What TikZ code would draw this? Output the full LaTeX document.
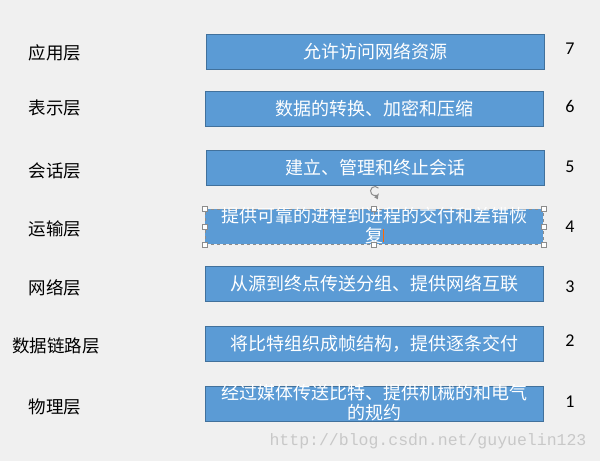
\documentclass[tikz,border=0pt]{standalone}
\usepackage{fontspec}
\setmainfont{Noto Sans CJK SC}
\newfontfamily\digitfont{Carlito}
\newfontfamily\urlfont{Liberation Mono}
\definecolor{bgcol}{HTML}{F0F0F0}
\definecolor{boxfill}{HTML}{5B9BD5}
\definecolor{boxline}{HTML}{41719C}
\definecolor{handleline}{HTML}{8C8C8C}
\definecolor{markcol}{HTML}{C8C8C8}
\begin{document}
\begin{tikzpicture}[x=1pt, y=-1pt,
    every node/.style={inner sep=0pt},
    layerbox/.style={fill=boxfill, draw=boxline, line width=0.8pt, minimum width=338pt, minimum height=35pt},
    boxtext/.style={text=white, font=\fontsize{18}{20}\selectfont, align=center},
    layername/.style={font=\fontsize{17.5}{20}\selectfont},
    layernum/.style={font=\digitfont\fontsize{18}{20}\selectfont},
    handle/.style={fill=white, draw=handleline, line width=0.5pt, minimum size=5pt}]
  \useasboundingbox [fill=bgcol] (0,0) rectangle (600,461);
  % layer names
  \node [layername] (n7) at (55,53) {应用层};
  \node [layername] (n6) at (55,108) {表示层};
  \node [layername] (n5) at (55,171) {会话层};
  \node [layername] (n4) at (55,229) {运输层};
  \node [layername] (n3) at (55,288) {网络层};
  \node [layername] (n2) at (56,346) {数据链路层};
  \node [layername] (n1) at (55,407) {物理层};
  % boxes
  \node [layerbox] (b7) at (375,51.5) {};
  \node [layerbox] (b6) at (374,109) {};
  \node [layerbox] (b5) at (375,167.5) {};
  \node [layerbox, draw=handleline, dashed, line width=0.5pt] (b4) at (374,226.5) {};
  \node [layerbox] (b3) at (374,284) {};
  \node [layerbox] (b2) at (374,343.5) {};
  \node [layerbox] (b1) at (374,403.5) {};
  \node [boxtext] (t7) at (b7) {允许访问网络资源};
  \node [boxtext] (t6) at (b6) {数据的转换、加密和压缩};
  \node [boxtext] (t5) at (b5) {建立、管理和终止会话};
  \node [boxtext] (t4) at ([yshift=1pt]b4) {提供可靠的进程到进程的交付和差错恢\\复};
  \node [boxtext] (t3) at (b3) {从源到终点传送分组、提供网络互联};
  \node [boxtext] (t2) at (b2) {将比特组织成帧结构，提供逐条交付};
  \node [boxtext] (t1) at ([yshift=1pt]b1) {经过媒体传送比特、提供机械的和电气\\的规约};
  % text cursor
  \draw [orange!80!red, line width=0.8pt] (383,229) -- (383,242);
  % selection handles
  \coordinate (rot) at (375,191);
  \draw [handleline, line width=0.5pt] (b4.north) -- ([yshift=-6pt]b4.north);
  \draw [handleline, line width=1pt, -latex] ([shift={(40:4.5pt)}]rot) arc (40:330:4.5pt);
  \foreach \a in {north west,north,north east,east,south east,south,south west,west}
    \node [handle] at (b4.\a) {};
  % numbers
  \node [layernum] (d7) at (570,49) {7};
  \node [layernum] (d6) at (570,106) {6};
  \node [layernum] (d5) at (570,167) {5};
  \node [layernum] (d4) at (570,227) {4};
  \node [layernum] (d3) at (570,287) {3};
  \node [layernum] (d2) at (570,341) {2};
  \node [layernum] (d1) at (570,402) {1};
  % watermark
  \node [text=markcol, font=\urlfont\fontsize{16.5}{18}\selectfont] (mark) at (428,441) {http://blog.csdn.net/guyuelin123};
\end{tikzpicture}
\end{document}
